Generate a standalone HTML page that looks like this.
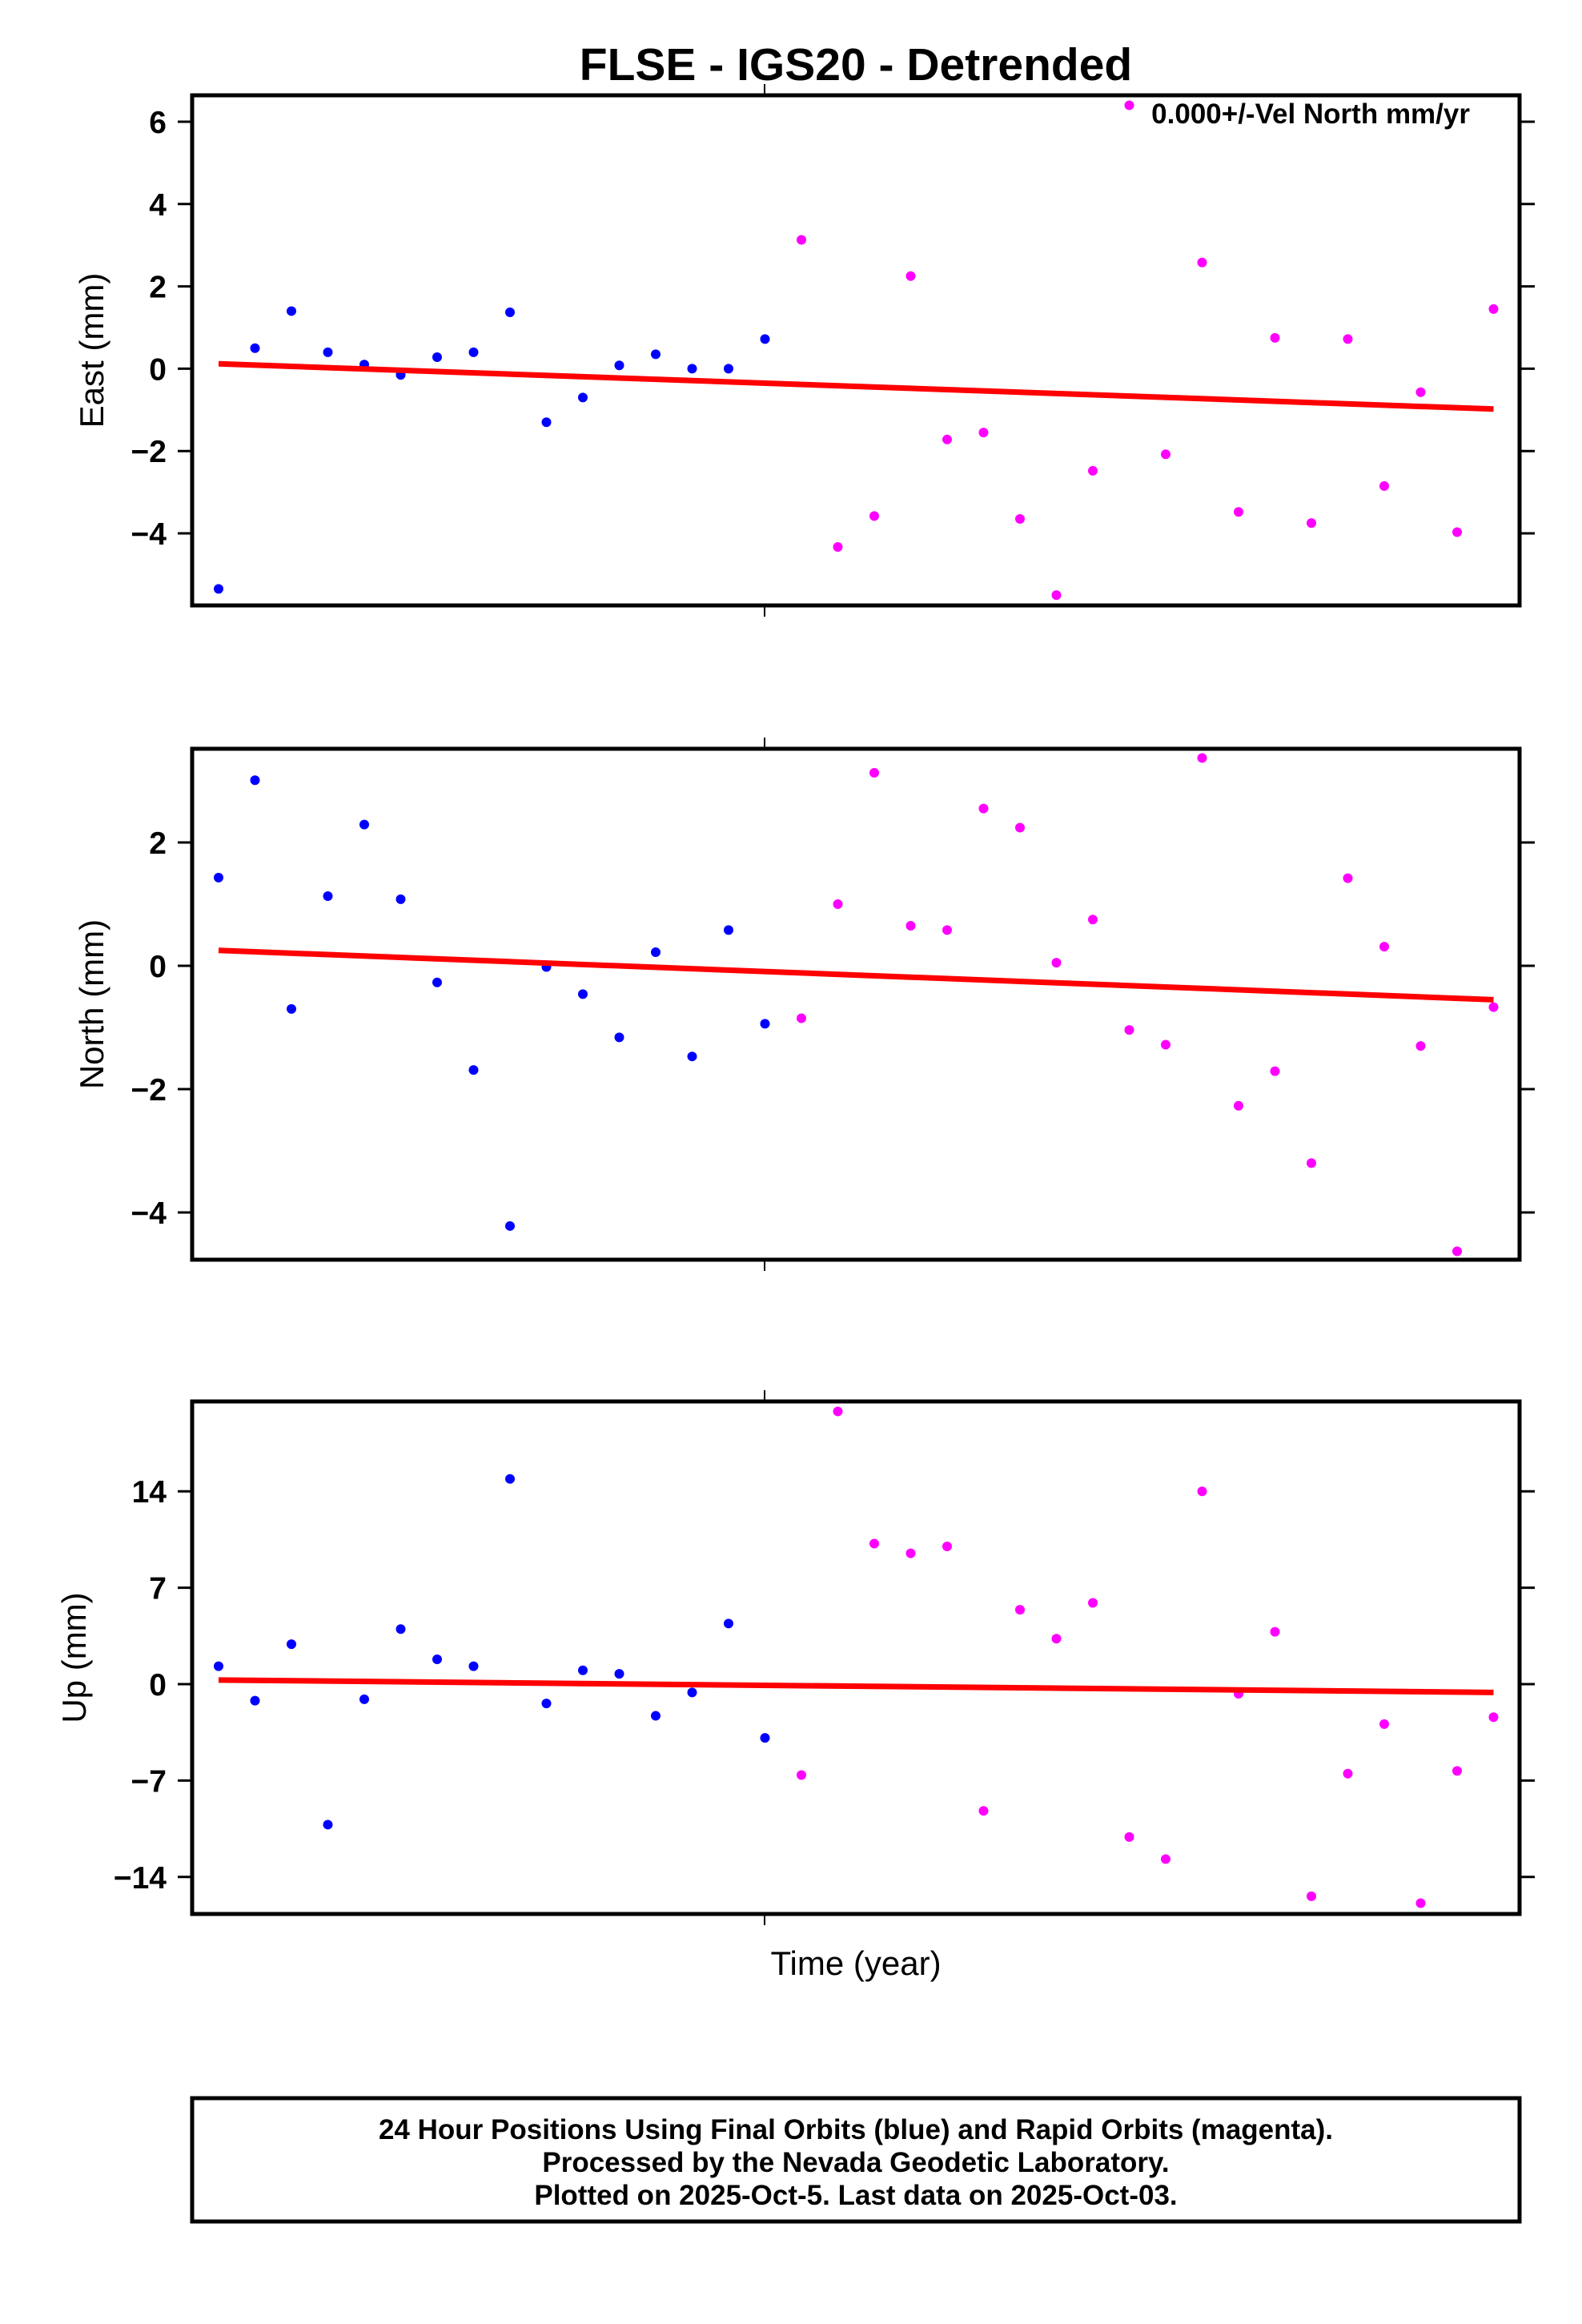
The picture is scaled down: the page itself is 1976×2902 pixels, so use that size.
<!DOCTYPE html>
<html><head><meta charset="utf-8"><style>
html,body{margin:0;padding:0;background:#fff;}
svg{display:block;font-family:"Liberation Sans",sans-serif;}
</style></head><body>
<svg id="chart" width="1976" height="2902" viewBox="0 0 1976 2902" xmlns="http://www.w3.org/2000/svg">
<text x="1069" y="100" text-anchor="middle" font-size="57" font-weight="bold">FLSE - IGS20 - Detrended</text>
<text x="1836" y="154" text-anchor="end" font-size="35" font-weight="bold">0.000+/-Vel North mm/yr</text>
<text x="1069" y="2466" text-anchor="middle" font-size="42">Time (year)</text>
<rect x="240" y="2620" width="1658" height="154" fill="none" stroke="#000" stroke-width="5"/>
<text x="1069" y="2671" text-anchor="middle" font-size="35" font-weight="bold">24 Hour Positions Using Final Orbits (blue) and Rapid Orbits (magenta).</text>
<text x="1069" y="2712" text-anchor="middle" font-size="35" font-weight="bold">Processed by the Nevada Geodetic Laboratory.</text>
<text x="1069" y="2753" text-anchor="middle" font-size="35" font-weight="bold">Plotted on 2025-Oct-5. Last data on 2025-Oct-03.</text>
</svg>
<script>
const nFinal = 16;
const eastValues = [-5.35,0.5,1.4,0.4,0.1,-0.15,0.28,0.4,1.37,-1.3,-0.7,0.08,0.35,0.0,0.0,0.72,3.13,-4.33,-3.58,2.25,-1.72,-1.55,-3.65,-5.5,-2.48,6.4,-2.08,2.58,-3.48,0.75,-3.75,0.72,-2.85,-0.57,-3.97,1.45];
const northValues = [1.43,3.01,-0.7,1.13,2.29,1.08,-0.27,-1.69,-4.22,-0.02,-0.46,-1.16,0.22,-1.47,0.58,-0.94,-0.85,1.0,3.13,0.65,0.58,2.55,2.24,0.05,0.75,-1.04,-1.28,3.37,-2.27,-1.71,-3.2,1.42,0.31,-1.3,-4.63,-0.67];
const upValues = [1.3,-1.2,2.9,-10.2,-1.1,4.0,1.8,1.3,14.9,-1.4,1.0,0.75,-2.3,-0.6,4.4,-3.9,-6.6,19.8,10.2,9.5,10.0,-9.2,5.4,3.3,5.9,-11.1,-12.7,14.0,-0.7,3.8,-15.4,-6.5,-2.9,-15.9,-6.3,-2.4];
const eastTrend = [0.12,-0.98];
const northTrend = [0.25,-0.55];
const upTrend = [0.3,-0.6];
const eastTicks = [6,4,2,0,-2,-4];
const northTicks = [2,0,-2,-4];
const upTicks = [14,7,0,-7,-14];

const NS="http://www.w3.org/2000/svg";
const svg=document.getElementById('chart');
function mk(tag,attrs,parent){const e=document.createElementNS(NS,tag);for(const k in attrs)e.setAttribute(k,attrs[k]);(parent||svg).appendChild(e);return e;}
const X0=240,X1=1898;
const xFirst=273, xStep=45.5;
function xPos(i){return xFirst+i*xStep;}

function panel(name,top,bottom,refVal,refY,pxPerUnit,vals,trend,ticks,label,labelX){
  const g=mk('g',{});
  
  
  const y=v=>refY-(v-refVal)*pxPerUnit;
  ticks.forEach(t=>{
    const yy=y(t);
    const l1=mk('line',{x1:222,x2:X0,y1:yy,y2:yy,stroke:'#000','stroke-width':3},g);
    
    
    const l2=mk('line',{x1:X1,x2:1917,y1:yy,y2:yy,stroke:'#000','stroke-width':3},g);
    
    
    const tx=mk('text',{x:208,y:yy+14,'text-anchor':'end','font-size':39,'font-weight':'bold'},g);
    tx.textContent=(t<0?'\u2212'+Math.abs(t):String(t));
    
    
  });
  const mt=mk('line',{x1:955,x2:955,y1:top-14,y2:top,stroke:'#000','stroke-width':2},g);
  
  
  const mb=mk('line',{x1:955,x2:955,y1:bottom,y2:bottom+14,stroke:'#000','stroke-width':2},g);
  
  
  vals.forEach((v,i)=>{
    const c=mk('circle',{cx:xPos(i),cy:y(v),r:6,fill:i<nFinal?'#0000ff':'#ff00ff'},g);
    
    
  });
  const tl=mk('line',{x1:xPos(0),y1:y(trend[0]),x2:xPos(vals.length-1),y2:y(trend[1]),stroke:'#ff0000','stroke-width':7},g);
  
  
  const fr=mk('rect',{x:X0,y:top,width:X1-X0,height:bottom-top,fill:'none',stroke:'#000','stroke-width':5},g);
  
  
  const cy=(top+bottom)/2;
  const lb=mk('text',{x:labelX,y:cy,'text-anchor':'middle','font-size':42,transform:'rotate(-90 '+labelX+' '+cy+')'},g);
  lb.textContent=label;
  
  
}
panel('east',119,756,6,152,51.4,eastValues,eastTrend,eastTicks,'East (mm)',129);
panel('north',935,1573,0,1206,77,northValues,northTrend,northTicks,'North (mm)',129);
panel('up',1750,2390,0,2103,17.2,upValues,upTrend,upTicks,'Up (mm)',107);
</script>
</body></html>
